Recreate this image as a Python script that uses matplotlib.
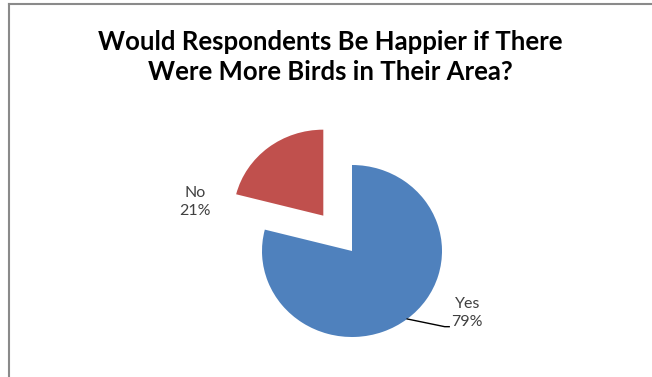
import matplotlib.pyplot as plt
import numpy as np

answers = ["Yes", "No"]
shares = [79, 21]
colors = ["#4F81BD", "#C0504D"]
explode = [0, 0.52]
# label text positions (data units, radius = 1)
label_xy = [(1.28, -0.72), (-1.74, 0.57)]

plt.rcParams["font.family"] = ["Lato", "DejaVu Sans"]

fig = plt.figure(figsize=(6.52, 3.77), dpi=100)

# chart area border (left and top edges only)
fig.add_artist(plt.Line2D([8.5 / 652, 8.5 / 652], [0, 1 - 4 / 377],
                          color="#8a8a8a", lw=1.5))
fig.add_artist(plt.Line2D([8.5 / 652, 1], [1 - 4 / 377, 1 - 4 / 377],
                          color="#8a8a8a", lw=1.5))

fig.text(330 / 652, 1 - 57 / 377,
         "Would Respondents Be Happier if There\nWere More Birds in Their Area?",
         ha="center", va="center", fontsize=18.5, fontweight="bold",
         color="black", linespacing=1.3)

ax = fig.add_axes([172 / 652, 5.6 / 377, 360 / 652, 240.8 / 377])
wedges, _ = ax.pie(shares, colors=colors, explode=explode, startangle=90,
                   counterclock=False, wedgeprops=dict(linewidth=0))
for w in wedges:
    w.set_clip_on(False)
ax.set_aspect("auto")
ax.set_xlim(-2, 2)
ax.set_ylim(-1.4, 1.4)
ax.axis("off")

for w, name, val, (lx, ly) in zip(wedges, answers, shares, label_xy):
    ax.text(lx, ly, f"{name}\n{val}%", ha="center", va="center",
            fontsize=11.5, color="#404040", linespacing=1.3)

# leader line for the Yes label
mid = np.deg2rad((wedges[0].theta1 + wedges[0].theta2) / 2)
ax.plot([np.cos(mid), 1.03, 1.08], [np.sin(mid), -0.88, -0.88],
        color="black", lw=1)

fig.savefig("out.png", dpi=100)
